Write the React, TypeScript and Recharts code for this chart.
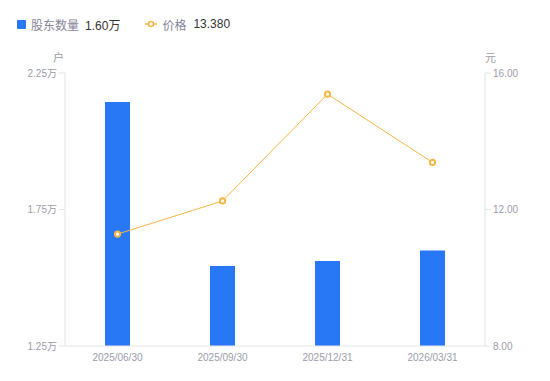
import React from 'react';
import { ComposedChart, Bar, Line, XAxis, YAxis, Legend } from 'recharts';

const categories = ['2025/06/30', '2025/09/30', '2025/12/31', '2026/03/31'];
const holders = [2.144, 1.543, 1.561, 1.6];
const prices = [11.28, 12.25, 15.38, 13.38];
const leftTicks = [1.25, 1.75, 2.25];
const rightTicks = [8, 12, 16];

const data = categories.map((date, i) => ({ date, holders: holders[i], price: prices[i] }));

const BLUE = '#2878f6';
const ORANGE = '#f8b647';
const AXIS = '#e4e4e8';
const TICK = '#9c9caa';
const FONT = '"Liberation Sans", Arial, "Noto Sans CJK SC", sans-serif';

const LegendContent = (props: any) => {
  const payload = props.payload || [];
  const bar = payload.find((p: any) => p.dataKey === 'holders');
  const line = payload.find((p: any) => p.dataKey === 'price');
  const lastHolders = holders[holders.length - 1];
  const lastPrice = prices[prices.length - 1];
  return (
    <div style={{ height: 73, position: 'relative', fontFamily: FONT, fontSize: 12 }}>
      <div style={{ position: 'absolute', left: 17, top: 16, height: 16, display: 'flex', alignItems: 'center', whiteSpace: 'nowrap' }}>
        <span style={{ display: 'inline-block', width: 9, height: 9, background: bar ? bar.color : BLUE, borderRadius: 1, marginRight: 5 }} />
        <span style={{ color: '#85859a' }}>{bar ? bar.value : '股东数量'}</span>
        <span style={{ color: '#333', marginLeft: 6 }}>{lastHolders.toFixed(2)}万</span>
        <svg width={12} height={8} style={{ marginLeft: 25, marginRight: 5 }}>
          <line x1={0} y1={4} x2={12} y2={4} stroke={ORANGE} strokeWidth={1.5} />
          <circle cx={6} cy={4} r={2.5} fill="#fff" stroke={ORANGE} strokeWidth={1.5} />
        </svg>
        <span style={{ color: '#85859a' }}>{line ? line.value : '价格'}</span>
        <span style={{ color: '#333', marginLeft: 7 }}>{lastPrice.toFixed(3)}</span>
      </div>
    </div>
  );
};

export default function App() {
  return (
    <div style={{ margin: '-8px 0 0 -8px', fontFamily: FONT }}>
      <ComposedChart width={550} height={381} data={data} margin={{ top: 0, right: 0, left: 0, bottom: 0 }}>
        <Legend verticalAlign="top" align="left" content={<LegendContent />} wrapperStyle={{ top: 0, left: 0, width: 550 }} />
        <XAxis
          dataKey="date"
          height={35}
          tickLine={false}
          axisLine={{ stroke: AXIS }}
          tick={{ fill: TICK, fontSize: 10 }}
          interval={0}
        />
        <YAxis
          yAxisId="left"
          orientation="left"
          width={65}
          domain={[1.25, 2.25]}
          ticks={leftTicks}
          tickFormatter={(v: number) => `${v.toFixed(2)}万`}
          axisLine={{ stroke: AXIS }}
          tickLine={{ stroke: AXIS }}
          tick={{ fill: TICK, fontSize: 10 }}
          label={{ value: '户', position: 'top', dx: 26, offset: 11, fill: TICK, fontSize: 11 }}
        />
        <YAxis
          yAxisId="right"
          orientation="right"
          width={65}
          domain={[8, 16]}
          ticks={rightTicks}
          tickFormatter={(v: number) => v.toFixed(2)}
          axisLine={{ stroke: AXIS }}
          tickLine={{ stroke: AXIS }}
          tick={{ fill: TICK, fontSize: 10 }}
          label={{ value: '元', position: 'top', dx: -27, offset: 11, fill: TICK, fontSize: 11 }}
        />
        <Bar yAxisId="left" dataKey="holders" name="股东数量" fill={BLUE} barSize={25} isAnimationActive={false} />
        <Line
          yAxisId="right"
          dataKey="price"
          name="价格"
          type="linear"
          stroke={ORANGE}
          strokeWidth={1}
          dot={{ r: 2.6, fill: '#fff', stroke: ORANGE, strokeWidth: 2 }}
          activeDot={false}
          isAnimationActive={false}
        />
      </ComposedChart>
    </div>
  );
}
